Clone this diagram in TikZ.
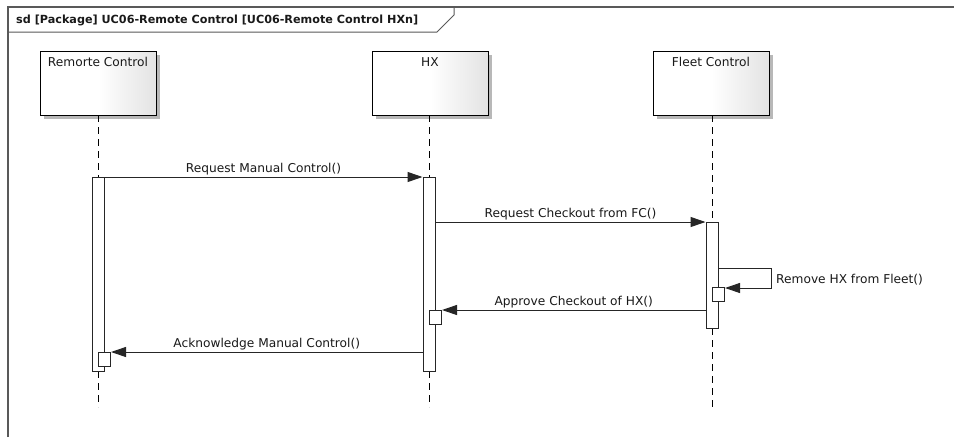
\documentclass[tikz,border=0pt]{standalone}
\usepackage{fontspec}
\setmainfont{DejaVu Sans}
\usetikzlibrary{arrows.meta,shadows}
\begin{document}
\begin{tikzpicture}[x=1pt,y=-1pt,
  every node/.style={font=\fontsize{12.2}{14}\selectfont, text=black!90},
  framestyle/.style={draw=black!65, line width=1.5pt},
  head/.style={draw=black, line width=1pt, left color=white, right color=black!11, middle color=white,
    minimum width=116pt, minimum height=64pt, inner sep=0pt,
    drop shadow={shadow xshift=4pt, shadow yshift=-4pt, fill=black!28, opacity=1}},
  headlbl/.style={anchor=north, yshift=-7pt, inner sep=0pt},
  lifeline/.style={draw=black, line width=0.9pt, dash pattern=on 7pt off 5pt},
  bar/.style={draw=black!85, line width=1pt, fill=white, minimum width=12pt, inner sep=0pt, anchor=north},
  smallbox/.style={draw=black!85, line width=1pt, fill=white, minimum width=12pt, minimum height=14pt, inner sep=0pt, anchor=north west},
  msg/.style={draw=black!85, line width=1pt, -{Triangle[length=15pt,width=10pt]}},
  lbl/.style={midway, anchor=base, yshift=5pt, inner sep=0pt}
]
\useasboundingbox (0,0) rectangle (954,437);
\fill[white] (0,0) rectangle (954,437);

% frame
\draw[framestyle] (8,437) -- (8,7) -- (954,7);
\draw[framestyle, line width=1pt] (8,32) -- (437,32) -- (454,15) -- (454,7);
\node[anchor=base west, inner sep=0pt, font=\bfseries\fontsize{11.2}{13}\selectfont] (title) at (16,23.5) {sd [Package] UC06-Remote Control [UC06-Remote Control HXn]};

% lifeline heads
\node[head, label={[headlbl]north:Remorte Control}] (rc) at (98,83) {};
\node[head, label={[headlbl]north:HX}] (hx) at (430,83) {};
\node[head, label={[headlbl]north:Fleet Control}] (fc) at (711,83) {};

% end coordinates
\coordinate (rcend) at (98,407);
\coordinate (hxend) at (429,407);
\coordinate (fcend) at (712,407);

% lifelines
\draw[lifeline] (98,115) -- (98,177);
\draw[lifeline] (98,371) -- (rcend);
\draw[lifeline] (429,115) -- (429,177);
\draw[lifeline] (429,371) -- (hxend);
\draw[lifeline] (712,115) -- (712,222);
\draw[lifeline] (712,328) -- (fcend);

% activation bars
\node[bar, minimum height=194pt] (rcbar) at (98,177) {};
\node[bar, minimum height=194pt] (hxbar) at (429,177) {};
\node[bar, minimum height=106pt] (fcbar) at (712,222) {};

% small execution boxes
\node[smallbox] (fcsmall) at (712,287) {};
\node[smallbox] (hxsmall) at (429,310) {};
\node[smallbox] (rcsmall) at (98,352) {};

% messages
\draw[msg] (rcbar.north east) -- node[lbl]{Request Manual Control()} (hxbar.north west);
\draw[msg] (hxbar.east |- fcbar.north) -- node[lbl]{Request Checkout from FC()} (fcbar.north west);

\coordinate (selfA) at (771,268);
\coordinate (selfB) at (771,288);
\draw[msg] (fcbar.east |- selfA) -- (selfA) -- (selfB) -- (fcsmall.east |- selfB);
\node[anchor=base west, inner sep=0pt] (selflbl) at (776,283) {Remove HX from Fleet()};

\draw[msg] (fcbar.west |- hxsmall.north) -- node[lbl]{Approve Checkout of HX()} (hxsmall.north east);
\draw[msg] (hxbar.west |- rcsmall.north) -- node[lbl]{Acknowledge Manual Control()} (rcsmall.north east);
\end{tikzpicture}
\end{document}
